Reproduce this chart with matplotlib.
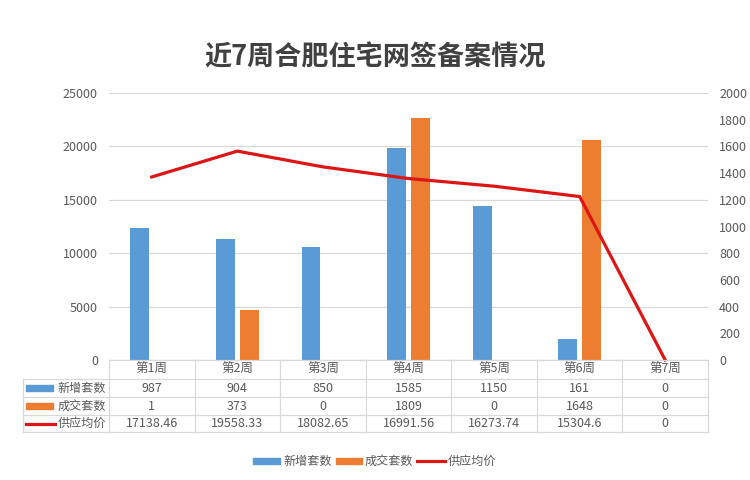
import matplotlib
matplotlib.use("Agg")
import matplotlib.pyplot as plt
from matplotlib.lines import Line2D
from matplotlib.patches import Rectangle
import numpy as np

plt.rcParams['font.family'] = ['Noto Sans CJK SC', 'DejaVu Sans']

weeks = ["第1周", "第2周", "第3周", "第4周", "第5周", "第6周", "第7周"]
new_units = [987, 904, 850, 1585, 1150, 161, 0]
deal_units = [1, 373, 0, 1809, 0, 1648, 0]
avg_price = [17138.46, 19558.33, 18082.65, 16991.56, 16273.74, 15304.6, 0]
price_labels = ["17138.46", "19558.33", "18082.65", "16991.56", "16273.74", "15304.6", "0"]
series_names = ["新增套数", "成交套数", "供应均价"]
title = "近7周合肥住宅网签备案情况"

BLUE = "#5B9BD5"
ORANGE = "#ED7D31"
RED = "#DD1515"
GRID = "#D9D9D9"
TXT = "#595959"

W, H = 750, 480
fig = plt.figure(figsize=(7.5, 4.8), dpi=100)

def fx(px):
    return px / W

def fy(py):
    return 1 - py / H

x0, x1, ytop, ybot = 109, 708, 93, 360
ax = fig.add_axes([fx(x0), fy(ybot), fx(x1) - fx(x0), fy(ytop) - fy(ybot)])
ax2 = ax.twinx()

n = len(weeks)
x = np.arange(n)
ax.set_xlim(-0.5, n - 0.5)
ax.set_ylim(0, 25000)
ax2.set_ylim(0, 2000)
ax.set_yticks(np.arange(0, 25001, 5000))
ax2.set_yticks(np.arange(0, 2001, 200))
ax.yaxis.grid(True, color=GRID, linewidth=0.9)
ax.set_axisbelow(True)
for a in (ax, ax2):
    for s in a.spines.values():
        s.set_visible(False)
    a.tick_params(axis='y', length=0, labelsize=9, labelcolor=TXT)
ax.tick_params(axis='y', pad=8)
ax2.tick_params(axis='y', pad=8)
ax.set_xticks([])
ax2.set_xticks([])

bw = 0.22
off = 0.14
ax2.bar(x - off, new_units, width=bw, color=BLUE, zorder=2)
ax2.bar(x + off, deal_units, width=bw, color=ORANGE, zorder=2)
ax2.plot(x, avg_price, color=RED, linewidth=2.3, transform=ax.transData,
         zorder=3, solid_joinstyle='round', clip_on=False)

# title
fig.text(0.5, fy(57), title, ha='center', va='center', fontsize=19.5,
         color='#404040', fontweight='bold')

# data table
tl = 23
rows_y = [360, 379, 397, 415, 432]
colw = (x1 - x0) / n
lc = GRID
fig.add_artist(Line2D([fx(x0), fx(x1)], [fy(rows_y[0])] * 2, color=lc, lw=0.9))
for yy in rows_y[1:]:
    fig.add_artist(Line2D([fx(tl), fx(x1)], [fy(yy)] * 2, color=lc, lw=0.9))
fig.add_artist(Line2D([fx(tl)] * 2, [fy(rows_y[1]), fy(rows_y[-1])], color=lc, lw=0.9))
for i in range(n + 1):
    xx = x0 + i * colw
    fig.add_artist(Line2D([fx(xx)] * 2, [fy(rows_y[0]), fy(rows_y[-1])], color=lc, lw=0.9))

def cy(r):
    return fy((rows_y[r] + rows_y[r + 1]) / 2)

for i, w in enumerate(weeks):
    cx = fx(x0 + (i + 0.5) * colw)
    fig.text(cx, cy(0), w, ha='center', va='center', fontsize=9, color=TXT)
    fig.text(cx, cy(1), str(new_units[i]), ha='center', va='center', fontsize=9, color=TXT)
    fig.text(cx, cy(2), str(deal_units[i]), ha='center', va='center', fontsize=9, color=TXT)
    fig.text(cx, cy(3), price_labels[i], ha='center', va='center', fontsize=9, color=TXT)

for r, (name, col) in enumerate(zip(series_names, [BLUE, ORANGE, RED])):
    yc = (rows_y[r + 1] + rows_y[r + 2]) / 2
    if r < 2:
        fig.add_artist(Rectangle((fx(26), fy(yc + 2.5)), fx(53) - fx(26), fy(yc - 2.5) - fy(yc + 2.5),
                                 color=col, transform=fig.transFigure))
    else:
        fig.add_artist(Line2D([fx(26), fx(55)], [fy(yc)] * 2, color=col, lw=2.3))
    fig.text(fx(58), fy(yc), name, ha='left', va='center', fontsize=8.7, color=TXT)

# bottom legend
ly = 461
items = [(253, 280, 284, BLUE, series_names[0], 'box'),
         (336, 362, 365, ORANGE, series_names[1], 'box'),
         (417, 445, 448, RED, series_names[2], 'line')]
for xs, xe, xt, col, name, kind in items:
    if kind == 'box':
        fig.add_artist(Rectangle((fx(xs), fy(ly + 3)), fx(xe) - fx(xs), fy(ly - 3) - fy(ly + 3),
                                 color=col, transform=fig.transFigure))
    else:
        fig.add_artist(Line2D([fx(xs), fx(xe)], [fy(ly)] * 2, color=col, lw=2.3))
    fig.text(fx(xt), fy(ly), name, ha='left', va='center', fontsize=8.7, color=TXT)

fig.savefig("out.png", dpi=100, facecolor='white')
